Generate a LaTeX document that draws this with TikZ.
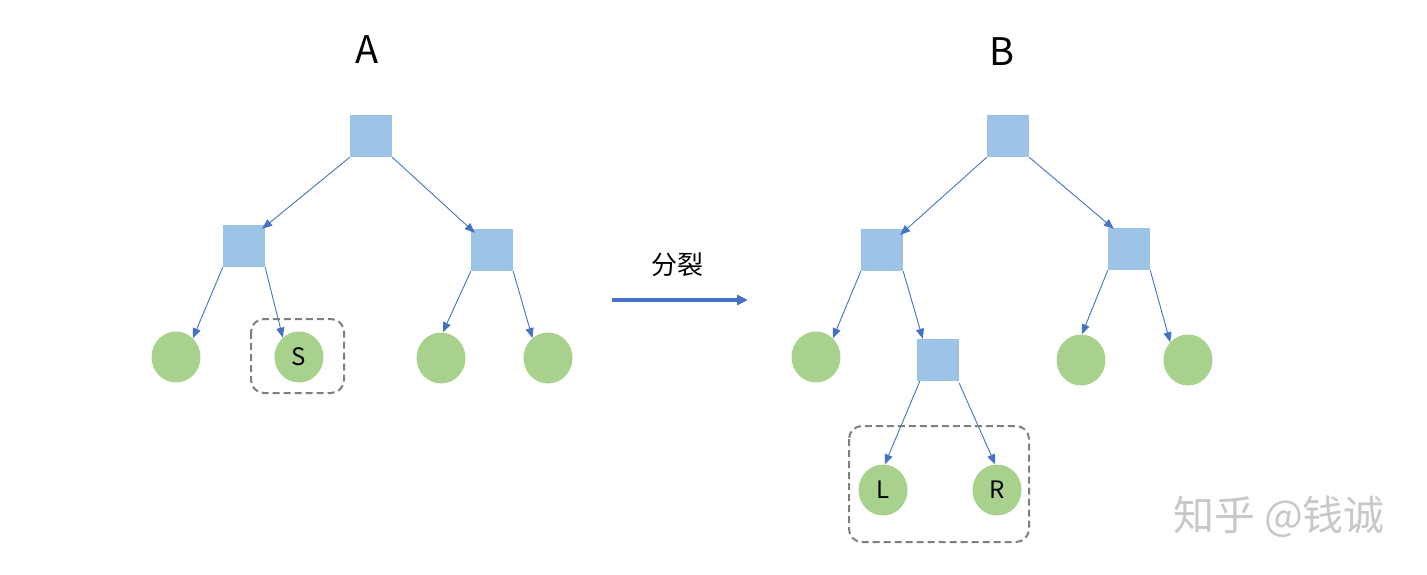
\documentclass[tikz,border=0pt]{standalone}
\usepackage{fontspec}
\setmainfont{Noto Sans CJK SC}
\usetikzlibrary{arrows.meta,shapes.geometric}
\definecolor{sqblue}{HTML}{9DC3E6}
\definecolor{lfgreen}{HTML}{A9D18E}
\definecolor{arrblue}{HTML}{4472C4}
\definecolor{boxgray}{HTML}{7F7F7F}
\definecolor{wmgray}{HTML}{C8C8C8}
\begin{document}
\begin{tikzpicture}[x=1pt,y=-1pt,
  sq/.style={fill=sqblue,draw=none,minimum width=42pt,minimum height=42pt,inner sep=0pt},
  lf/.style={fill=lfgreen,draw=none,ellipse,minimum width=49pt,minimum height=51pt,inner sep=0pt,font=\fontsize{24}{26}\selectfont},
  ed/.style={draw=arrblue,line width=0.9pt,-{Triangle[length=10pt,width=8pt]}},
  grp/.style={draw=boxgray,line width=2pt,dash pattern=on 7pt off 4pt,rounded corners=13pt},
  ttl/.style={font=\fontsize{38}{40}\selectfont,inner sep=0pt}]
\useasboundingbox (0,0) rectangle (1427,575);
% titles
\node[ttl] (tA) at (367,50) {A};
\node[ttl] (tB) at (1002,52) {B};
% ---------- tree A ----------
\node[sq] (ar) at (371,136) {};
\node[sq] (al) at (244,246) {};
\node[sq] (aR) at (492,250) {};
\node[lf] (a1) at (176,357) {};
\node[lf] (a2) at (299,357) {S};
\node[lf] (a3) at (441,358) {};
\node[lf] (a4) at (548,358) {};
\draw[ed] (ar.south west) -- ([shift={(-3pt,-4pt)}]al.north east);
\draw[ed] (ar.south east) -- ([shift={(4pt,-4pt)}]aR.north west);
\draw[ed] (al.south west) -- (a1.48);
\draw[ed] (al.south east) -- (a2.130);
\draw[ed] (aR.south west) -- (a3.86);
\draw[ed] (aR.south east) -- (a4.128);
\draw[grp] (251,319) rectangle (344,393);
% ---------- arrow ----------
\coordinate (m1) at (612,300);
\coordinate (m2) at (748,300);
\draw[draw=arrblue,line width=3.5pt,-{Triangle[length=11pt,width=10pt]}] (m1) -- (m2);
\node[font=\fontsize{26}{28}\selectfont,inner sep=0pt] (split) at (677,265) {分裂};
% ---------- tree B ----------
\node[sq] (br) at (1008,136) {};
\node[sq] (bl) at (882,250) {};
\node[sq] (bR) at (1129,249) {};
\node[lf] (b1) at (816,357) {};
\node[sq] (bm) at (938,360) {};
\node[lf] (b3) at (1081,360) {};
\node[lf] (b4) at (1188,360) {};
\node[lf] (bL) at (883,490) {L};
\node[lf] (bRR) at (997,490) {R};
\draw[ed] (br.south west) -- ([shift={(-3pt,-6pt)}]bl.north east);
\draw[ed] (br.south east) -- ([shift={(6pt,-1pt)}]bR.north west);
\draw[ed] (bl.south west) -- (b1.48);
\draw[ed] (bl.south east) -- ([shift={(6pt,0pt)}]bm.north west);
\draw[ed] (bR.south west) -- (b3.88);
\draw[ed] (bR.south east) -- (b4.135);
\draw[ed] ([shift={(3pt,0pt)}]bm.south west) -- (bL.86);
\draw[ed] ([shift={(0pt,-2pt)}]bm.south east) -- (bRR.94);
\draw[grp] (849,426) rectangle (1029,542);
% ---------- watermark ----------
\node[font=\fontsize{41}{43}\selectfont,text=wmgray,inner sep=0pt] (wm) at (1279,517) {知乎 @钱诚};
\end{tikzpicture}
\end{document}
